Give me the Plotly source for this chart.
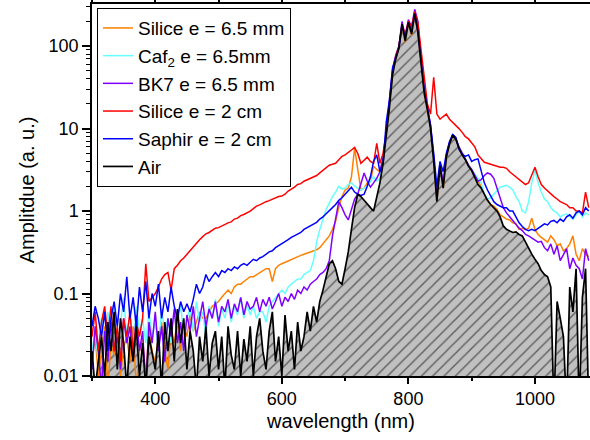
import plotly.graph_objects as go

# wavelength grid (nm), 5 nm steps
wavelength = list(range(300, 1090, 5))

air = [
    0.02, 0.007, 0.015, 0.03, 0.01, 0.045, 0.02, 0.06, 0.012, 0.05,
    0.025, 0.007, 0.03, 0.015, 0.04, 0.01, 0.025, 0.007, 0.03, 0.018,
    0.012, 0.035, 0.007, 0.045, 0.02, 0.05, 0.015, 0.065, 0.025, 0.05,
    0.012, 0.035, 0.02, 0.007, 0.03, 0.015, 0.04, 0.01, 0.025, 0.035,
    0.012, 0.03, 0.007, 0.04, 0.018, 0.012, 0.035, 0.01, 0.028, 0.015,
    0.04, 0.01, 0.03, 0.05, 0.02, 0.012, 0.035, 0.06, 0.015, 0.03,
    0.01, 0.055, 0.02, 0.035, 0.012, 0.045, 0.02, 0.03, 0.06, 0.035,
    0.07, 0.045, 0.08, 0.11, 0.16, 0.23, 0.25, 0.2, 0.14, 0.13,
    0.2, 0.32, 0.6, 1.1, 1.6, 1.5, 1.35, 1.2, 1.1, 1.0,
    1.5, 2.2, 3.8, 8, 18, 45, 70, 95, 185, 115,
    195, 140, 250, 150, 60, 27, 17, 10, 4, 1.3,
    3.5, 1.9, 4.5, 6.5, 8.3, 7.4, 5.8, 4.8, 4.2, 3.5,
    3.1, 2.6, 2.1, 1.9, 1.6, 1.35, 1.2, 1.1, 1.0, 0.85,
    0.66, 0.6, 0.57, 0.55, 0.56, 0.52, 0.5, 0.42, 0.35, 0.3,
    0.26, 0.23, 0.19, 0.17, 0.16, 0.12, 0.004, 0.08, 0.05, 0.03,
    0.004, 0.12, 0.06, 0.2, 0.004, 0.09, 0.2, 0.004,
]

silice_2cm = [
    0.03, 0.06, 0.02, 0.045, 0.07, 0.03, 0.07, 0.02, 0.04, 0.015,
    0.05, 0.03, 0.06, 0.02, 0.045, 0.03, 0.05, 0.23, 0.08, 0.09,
    0.1, 0.12, 0.15, 0.17, 0.18, 0.11, 0.2, 0.22, 0.25, 0.27,
    0.3, 0.33, 0.37, 0.41, 0.45, 0.49, 0.53, 0.55, 0.58, 0.62,
    0.63, 0.66, 0.68, 0.72, 0.74, 0.8, 0.82, 0.88, 0.91, 0.95,
    1.0, 1.07, 1.15, 1.19, 1.25, 1.3, 1.34, 1.4, 1.44, 1.5,
    1.52, 1.6, 1.75, 1.83, 1.95, 2.1, 2.15, 2.3, 2.4, 2.5,
    2.6, 2.7, 2.9, 3.1, 3.3, 3.6, 3.7, 3.8, 4.2, 4.6,
    4.8, 5.2, 5.5, 5.9, 5.0, 3.8, 4.2, 4.5, 4.0, 3.8,
    6.6, 3.8, 5.0, 9, 20, 48, 75, 100, 180, 140,
    200, 170, 260, 190, 90, 45, 20, 15, 42, 15,
    13, 14, 15, 13, 12, 11, 10, 9, 8, 7.5,
    6.8, 6.0, 4.8, 4.3, 3.9, 3.8, 3.7, 3.6, 3.5, 3.4,
    3.4, 3.3, 3.0, 2.8, 2.6, 2.4, 2.3, 2.1, 2.2, 2.8,
    3.4, 2.6, 2.1, 1.9, 1.75, 1.6, 1.5, 1.4, 1.3, 1.25,
    1.2, 1.1, 1.1, 1.0, 1.0, 0.95, 1.7, 1.1,
]

saphir_2cm = [
    0.04, 0.07, 0.05, 0.03, 0.06, 0.02, 0.05, 0.08, 0.04, 0.1,
    0.06, 0.16, 0.05, 0.09, 0.04, 0.12, 0.06, 0.14, 0.05, 0.1,
    0.07, 0.13, 0.05, 0.09, 0.06, 0.12, 0.07, 0.05, 0.08, 0.06,
    0.075, 0.06, 0.085, 0.13, 0.1, 0.12, 0.17, 0.14, 0.16, 0.18,
    0.16, 0.19, 0.18, 0.2, 0.19, 0.21, 0.2, 0.22, 0.23, 0.22,
    0.24, 0.26, 0.25, 0.27, 0.28, 0.3, 0.32, 0.33, 0.36, 0.38,
    0.4, 0.42, 0.45, 0.48, 0.5, 0.53, 0.55, 0.6, 0.63, 0.67,
    0.7, 0.73, 0.8, 0.85, 0.93, 1.0, 1.1, 1.2, 1.35, 1.45,
    1.6, 1.8, 1.95, 1.7, 1.6, 1.55, 1.6, 2.0, 2.6, 4.0,
    4.8, 3.0, 3.8, 12, 22, 55, 72, 95, 175, 130,
    190, 150, 240, 150, 65, 30, 18, 11, 5, 2,
    4, 3, 5, 7, 8.5, 7.8, 5.6, 4.9, 4.6, 4.8,
    4.0, 4.2, 4.3, 3.0, 2.2, 1.8, 1.5, 1.3, 1.2, 1.15,
    1.1, 1.1, 1.0, 1.0, 0.85, 0.72, 0.65, 0.6, 0.58, 0.6,
    0.58, 0.62, 0.65, 0.7, 0.68, 0.75, 0.77, 0.72, 0.8, 0.75,
    0.85, 0.9, 0.82, 0.95, 1.0, 0.9, 1.1, 1.0,
]

silice_65mm = [
    0.015, 0.03, 0.01, 0.02, 0.04, 0.007, 0.025, 0.018, 0.035, 0.01,
    0.022, 0.03, 0.015, 0.04, 0.007, 0.02, 0.028, 0.01, 0.035, 0.02,
    0.015, 0.03, 0.045, 0.02, 0.012, 0.035, 0.025, 0.05, 0.02, 0.04,
    0.03, 0.055, 0.035, 0.045, 0.06, 0.05, 0.05, 0.06, 0.07, 0.075,
    0.08, 0.09, 0.1, 0.11, 0.1, 0.12, 0.13, 0.13, 0.14, 0.15,
    0.16, 0.16, 0.17, 0.18, 0.19, 0.2, 0.2, 0.14, 0.2, 0.22,
    0.23, 0.24, 0.25, 0.26, 0.27, 0.28, 0.29, 0.3, 0.31, 0.32,
    0.33, 0.34, 0.36, 0.4, 0.44, 0.5, 0.6, 0.75, 1.1, 1.5,
    1.8, 1.9, 2.6, 5.8, 3.2, 1.8, 1.9, 2.2, 2.3, 3.5,
    3.2, 3.0, 4.0, 8.5, 19, 47, 70, 92, 175, 110,
    185, 135, 235, 145, 58, 26, 16, 10, 4, 1.3,
    3.5, 1.9, 4.5, 6.5, 8.3, 7.4, 5.8, 4.8, 4.2, 3.6,
    3.2, 2.7, 2.3, 2.0, 1.6, 1.35, 1.2, 1.15, 1.05, 0.9,
    0.85, 0.8, 0.78, 0.72, 0.7, 0.6, 0.62, 0.6, 0.62, 0.82,
    0.6, 0.52, 0.48, 0.45, 0.42, 0.5, 0.45, 0.38, 0.4, 0.33,
    0.35, 0.4, 0.5, 0.3, 0.25, 0.35, 0.3, 0.28,
]

caf2_65mm = [
    0.02, 0.035, 0.015, 0.05, 0.025, 0.06, 0.03, 0.07, 0.02, 0.045,
    0.09, 0.03, 0.055, 0.02, 0.07, 0.035, 0.05, 0.025, 0.06, 0.03,
    0.045, 0.02, 0.065, 0.035, 0.05, 0.025, 0.06, 0.04, 0.075, 0.03,
    0.05, 0.065, 0.035, 0.08, 0.045, 0.06, 0.03, 0.07, 0.05, 0.085,
    0.04, 0.065, 0.05, 0.08, 0.045, 0.07, 0.055, 0.09, 0.05, 0.075,
    0.055, 0.07, 0.05, 0.06, 0.06, 0.045, 0.07, 0.08, 0.09, 0.1,
    0.11, 0.1, 0.12, 0.13, 0.14, 0.15, 0.15, 0.17, 0.18, 0.19,
    0.25, 0.42, 0.6, 0.8, 1.05, 1.25, 1.5, 1.7, 2.0, 1.85,
    1.9, 2.1, 2.2, 2.0, 1.9, 1.8, 1.9, 2.0, 2.3, 2.6,
    2.3, 2.5, 4.0, 8.5, 19, 48, 72, 95, 180, 120,
    195, 145, 240, 155, 62, 28, 17, 10.5, 4.2, 1.5,
    3.7, 2.2, 4.8, 6.8, 8.5, 7.6, 5.9, 4.9, 4.3, 3.6,
    3.2, 2.8, 2.5, 2.2, 1.6, 1.4, 1.45, 1.6, 1.8, 1.95,
    2.0, 2.05, 1.95, 1.8, 1.5, 1.3, 1.0, 0.95, 1.3, 2.2,
    3.1, 2.2, 1.7, 1.4, 1.3, 1.1, 1.0, 0.95, 0.85, 0.9,
    0.92, 0.85, 0.8, 0.9, 1.0, 0.85, 0.95, 0.9,
]

bk7_65mm = [
    0.012, 0.04, 0.02, 0.007, 0.035, 0.015, 0.045, 0.02, 0.03, 0.012,
    0.05, 0.025, 0.04, 0.015, 0.055, 0.02, 0.035, 0.007, 0.045, 0.025,
    0.06, 0.02, 0.04, 0.015, 0.05, 0.03, 0.065, 0.025, 0.045, 0.02,
    0.055, 0.035, 0.07, 0.03, 0.05, 0.08, 0.04, 0.065, 0.05, 0.08,
    0.045, 0.07, 0.06, 0.085, 0.05, 0.075, 0.06, 0.09, 0.055, 0.08,
    0.065, 0.07, 0.09, 0.06, 0.085, 0.07, 0.09, 0.065, 0.08, 0.1,
    0.07, 0.09, 0.08, 0.1, 0.085, 0.11, 0.1, 0.12, 0.11, 0.13,
    0.14, 0.15, 0.17, 0.18, 0.2, 0.25, 0.5, 0.8, 1.3, 1.1,
    0.9, 0.78, 1.05, 1.4, 1.6, 2.2, 2.9, 2.3, 1.95, 2.2,
    2.5, 3.0, 4.5, 9, 20, 52, 78, 100, 200, 130,
    210, 170, 280, 200, 70, 30, 18, 11, 4.5, 1.5,
    3.8, 2.2, 4.8, 6.8, 8.5, 7.6, 6.0, 5.0, 4.3, 3.6,
    3.2, 2.7, 2.3, 2.4, 2.7, 2.9, 2.8, 2.5, 1.9, 1.4,
    1.1, 0.95, 0.85, 0.75, 0.68, 0.62, 0.58, 0.52, 0.5, 0.47,
    0.45, 0.42, 0.43, 0.36, 0.33, 0.4, 0.3, 0.38, 0.25, 0.3,
    0.35, 0.2, 0.27, 0.22, 0.2, 0.15, 0.35, 0.25,
]

FONT = "Arial, Liberation Sans, sans-serif"
FS_TICK = 18
FS_TITLE = 20
FS_LEG = 19

series = [
    ("Silice e = 6.5 mm", silice_65mm, "#FF8000"),
    ("Caf<sub>2</sub> e = 6.5mm", caf2_65mm, "#66FFFF"),
    ("BK7 e = 6.5 mm", bk7_65mm, "#8000FF"),
    ("Silice e = 2 cm", silice_2cm, "#FF0000"),
    ("Saphir e = 2 cm", saphir_2cm, "#0000FF"),
]

fig = go.Figure()

# hatched fill under the Air spectrum
fig.add_trace(go.Scatter(
    x=wavelength, y=air, mode="lines", line=dict(width=0, color="black"),
    fill="tozeroy", fillcolor="#c0c0c0",
    fillpattern=dict(shape="/", bgcolor="#c0c0c0", fgcolor="black", size=8, solidity=0.18),
    showlegend=False, hoverinfo="skip",
))

for i, (name, vals, col) in enumerate(series):
    fig.add_trace(go.Scatter(
        x=wavelength, y=vals, mode="lines", name=name,
        line=dict(color=col, width=1.5), legendgroup=f"g{i}",
    ))

fig.add_trace(go.Scatter(
    x=wavelength, y=air, mode="lines", name="Air",
    line=dict(color="black", width=1.7), legendgroup="g5",
))

minor_y = []
for e in range(-2, 3):
    for m in range(2, 10):
        minor_y.append(m * 10 ** e)

fig.update_layout(
    width=590, height=440,
    margin=dict(l=92, r=0, t=4, b=64, autoexpand=False),
    paper_bgcolor="white", plot_bgcolor="white",
    font=dict(family=FONT, size=FS_TICK, color="black"),
    showlegend=True,
    legend=dict(
        x=0.01, y=0.989, xanchor="left", yanchor="top",
        bgcolor="white", bordercolor="black", borderwidth=1,
        font=dict(family=FONT, size=FS_LEG, color="black"),
        traceorder="grouped", tracegroupgap=0, itemwidth=30,
    ),
    xaxis=dict(
        range=[300, 1087], tick0=0, dtick=200, automargin=False,
        ticks="outside", ticklen=6, tickwidth=1.5, tickcolor="black",
        showline=True, linewidth=1.5, linecolor="black", mirror="ticks",
        showgrid=False, zeroline=False,
        minor=dict(dtick=100, tick0=0, ticks="outside", ticklen=3.5, tickwidth=1.5, tickcolor="black", showgrid=False),
        tickfont=dict(family=FONT, size=FS_TICK),
        title=dict(text="wavelength (nm)", font=dict(family=FONT, size=FS_TITLE), standoff=6),
    ),
    yaxis=dict(
        type="log", range=[-2, 2.511], automargin=False,
        tickmode="array", tickvals=[0.01, 0.1, 1, 10, 100],
        ticktext=["0.01", "0.1", "1", "10", "100"],
        ticks="outside", ticklen=8, tickwidth=1.5, tickcolor="black",
        showline=True, linewidth=1.5, linecolor="black", mirror=False,
        showgrid=False, zeroline=False,
        minor=dict(tickmode="array", tickvals=minor_y, ticks="outside", ticklen=4, tickwidth=1.2, tickcolor="black", showgrid=False),
        tickfont=dict(family=FONT, size=FS_TICK),
        title=dict(text="Amplitdue (a. u.)", font=dict(family=FONT, size=FS_TITLE), standoff=4),
    ),
)

fig.write_html("out.html", config={"displayModeBar": False},
               post_script="document.body.style.margin='0px';")
